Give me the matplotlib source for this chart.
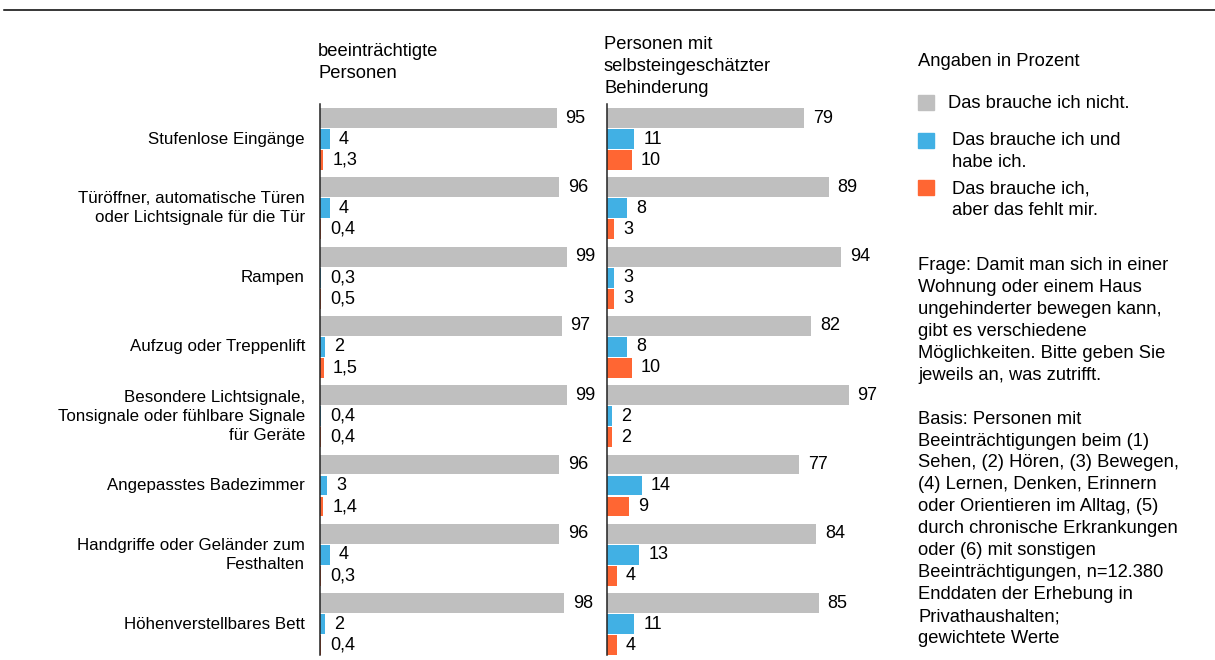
import matplotlib
matplotlib.use("Agg")
import matplotlib.pyplot as plt
from matplotlib.patches import Rectangle
from matplotlib.lines import Line2D
from matplotlib.transforms import blended_transform_factory

plt.rcParams['font.family'] = ['Liberation Sans', 'DejaVu Sans']

categories = [
    "Stufenlose Eingänge",
    "Türöffner, automatische Türen\noder Lichtsignale für die Tür",
    "Rampen",
    "Aufzug oder Treppenlift",
    "Besondere Lichtsignale,\nTonsignale oder fühlbare Signale\nfür Geräte",
    "Angepasstes Badezimmer",
    "Handgriffe oder Geländer zum\nFesthalten",
    "Höhenverstellbares Bett",
]

# beeinträchtigte Personen
left_no = [95, 96, 99, 97, 99, 96, 96, 98]
left_have = [4, 4, 0.3, 2, 0.4, 3, 4, 2]
left_lack = [1.3, 0.4, 0.5, 1.5, 0.4, 1.4, 0.3, 0.4]

# Personen mit selbsteingeschätzter Behinderung
right_no = [79, 89, 94, 82, 97, 77, 84, 85]
right_have = [11, 8, 3, 8, 2, 14, 13, 11]
right_lack = [10, 3, 3, 10, 2, 9, 4, 4]

panel_titles = ["beeinträchtigte\nPersonen",
                "Personen mit\nselbsteingeschätzter\nBehinderung"]
series_labels = ["Das brauche ich nicht.",
                 "Das brauche ich und\nhabe ich.",
                 "Das brauche ich,\naber das fehlt mir."]
colors = ['#BFBFBF', '#41B0E4', '#FF6633']

note = ("Frage: Damit man sich in einer\n"
        "Wohnung oder einem Haus\n"
        "ungehinderter bewegen kann,\n"
        "gibt es verschiedene\n"
        "Möglichkeiten. Bitte geben Sie\n"
        "jeweils an, was zutrifft.\n"
        "\n"
        "Basis: Personen mit\n"
        "Beeinträchtigungen beim (1)\n"
        "Sehen, (2) Hören, (3) Bewegen,\n"
        "(4) Lernen, Denken, Erinnern\n"
        "oder Orientieren im Alltag, (5)\n"
        "durch chronische Erkrankungen\n"
        "oder (6) mit sonstigen\n"
        "Beeinträchtigungen, n=12.380\n"
        "Enddaten der Erhebung in\n"
        "Privathaushalten;\n"
        "gewichtete Werte")

W, H = 1215, 660
fig = plt.figure(figsize=(W / 100, H / 100), dpi=100)


def fx(px):
    return px / W


def fy(py):
    return 1 - py / H


def fmt(v):
    return f"{v:g}".replace('.', ',')


LS_CAT = 1.33
LS_TXT = 1.38
group_step = 3.3
n = len(categories)
ax_top, ax_bot = 104, 655


def draw_panel(x0, series):
    ax = fig.add_axes([fx(x0), fy(ax_bot), 249 / W, (ax_bot - ax_top) / H])
    for j, (vals, c) in enumerate(zip(series, colors)):
        ys = [i * group_step + j for i in range(len(vals))]
        ax.barh(ys, vals, height=0.95, color=c, linewidth=0)
        for y, v in zip(ys, vals):
            ax.annotate(fmt(v), (v, y), xytext=(6.5, 0), textcoords='offset points',
                        va='center', ha='left', fontsize=13)
    ax.set_xlim(0, 100)
    ax.set_ylim((n - 1) * group_step + 2.47, -0.667)
    for s in ['top', 'right', 'bottom']:
        ax.spines[s].set_visible(False)
    ax.spines['left'].set_linewidth(1.1)
    ax.spines['left'].set_color('#222222')
    ax.set_xticks([])
    ax.set_yticks([])
    ax.patch.set_visible(False)
    return ax


axL = draw_panel(320, [left_no, left_have, left_lack])
axR = draw_panel(607, [right_no, right_have, right_lack])

trans = blended_transform_factory(fig.transFigure, axL.transData)
for i, cat in enumerate(categories):
    axL.text(fx(305), i * group_step + 1, cat, transform=trans, ha='right',
             va='center', fontsize=12.2, linespacing=LS_CAT)

# multi-line texts: va='baseline' aligns the last line
fig.text(fx(318), fy(77.7), panel_titles[0], fontsize=13.2, va='baseline',
         linespacing=LS_TXT)
fig.text(fx(604), fy(93.3), panel_titles[1], fontsize=13.2, va='baseline',
         linespacing=LS_TXT)

# legend
fig.text(fx(918), fy(66), "Angaben in Prozent", fontsize=13.2, va='baseline')
legend_y = [102.5, 140.3, 187]
legend_base = [107.7, 166.7, 215]
legend_tx = [948, 952, 952]
for lab, c, yc, yb, tx in zip(series_labels, colors, legend_y, legend_base, legend_tx):
    fig.patches.append(Rectangle((fx(918), fy(yc + 7.5)), 16 / W, 15 / H,
                                 transform=fig.transFigure, color=c))
    fig.text(fx(tx), fy(yb), lab, fontsize=13.2, va='baseline',
             linespacing=LS_TXT)

fig.text(fx(918), fy(643), note, fontsize=13.2, va='baseline', linespacing=LS_TXT)

fig.add_artist(Line2D([fx(4), 1], [fy(10), fy(10)], color='black', lw=1.1,
                      transform=fig.transFigure))

fig.savefig("out.png", dpi=100)
